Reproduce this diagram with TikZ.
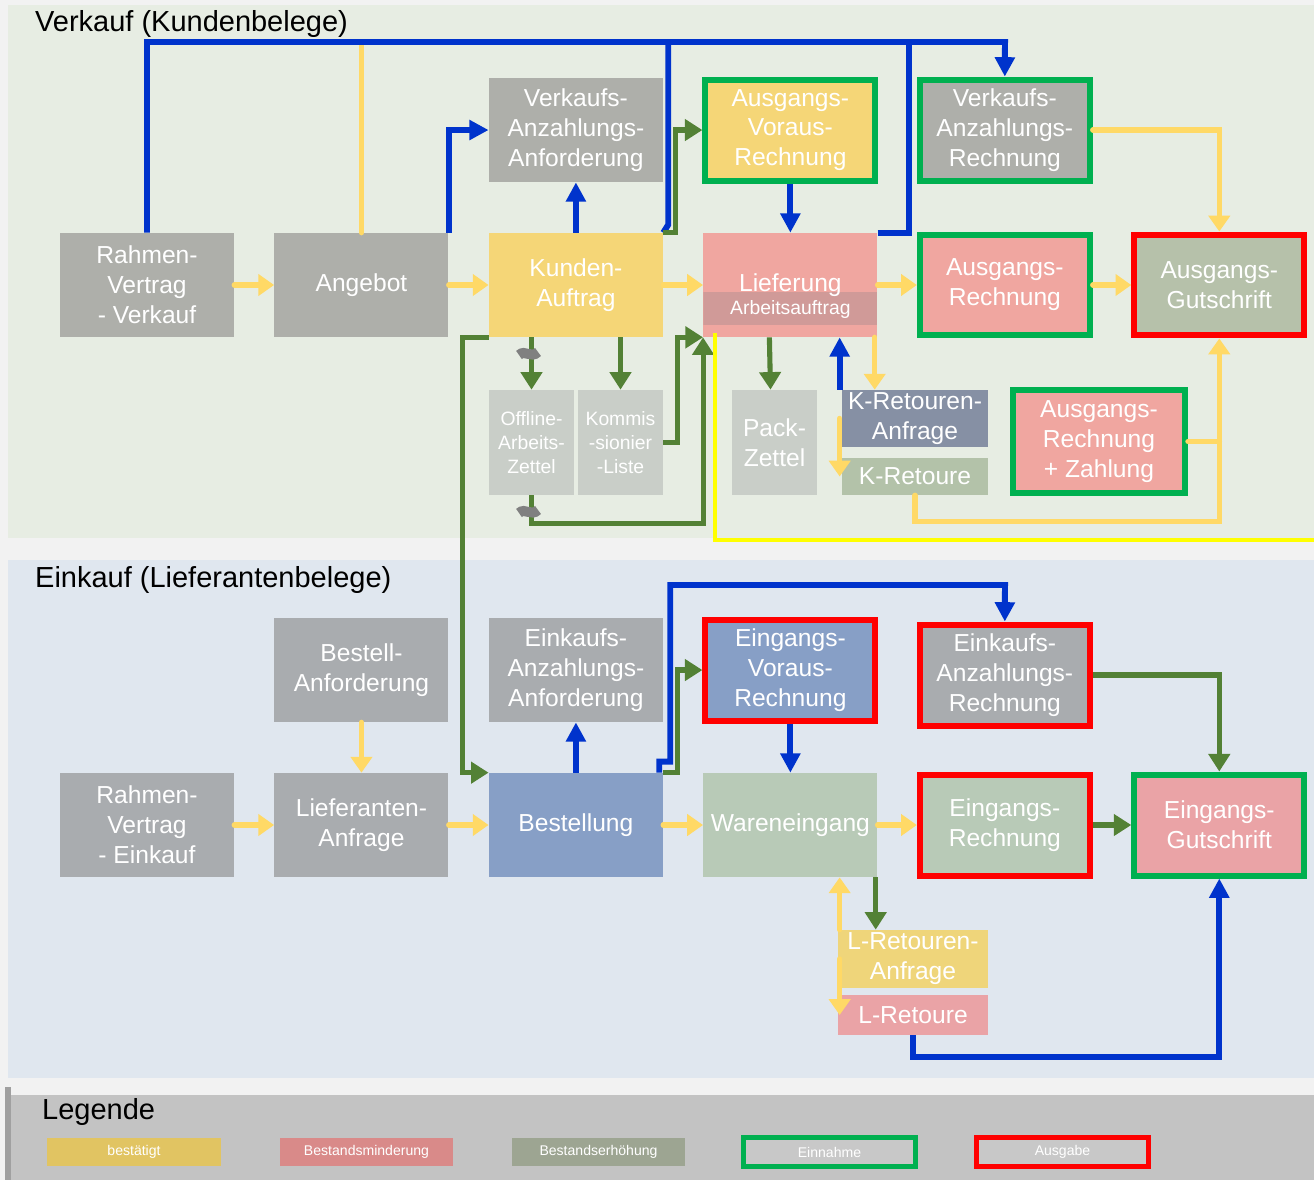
\documentclass[tikz,border=0pt]{standalone}
\usepackage{fontspec}
\setmainfont{Liberation Sans}
\usetikzlibrary{arrows.meta, calc, positioning}

\definecolor{seitengrau}{HTML}{F2F2F2}
\definecolor{verkaufbg}{HTML}{E7EDE3}
\definecolor{einkaufbg}{HTML}{E0E7EF}
\definecolor{legendbg}{HTML}{C3C3C3}
\definecolor{legendrand}{HTML}{A0A0A0}
\definecolor{vkgrau}{HTML}{AEAFAA}
\definecolor{ekgrau}{HTML}{A9ACAF}
\definecolor{hellgrau}{HTML}{C9CEC8}
\definecolor{gelbbox}{HTML}{F5D677}
\definecolor{rosabox}{HTML}{F0A6A0}
\definecolor{bandrosa}{HTML}{D09A98}
\definecolor{gutgruen}{HTML}{B6C1AA}
\definecolor{blaubox}{HTML}{879FC6}
\definecolor{wegruen}{HTML}{B8CAB7}
\definecolor{egrosa}{HTML}{EAA3A6}
\definecolor{kragrau}{HTML}{8690A4}
\definecolor{krgruen}{HTML}{B3C2A9}
\definecolor{lragelb}{HTML}{EFD57A}
\definecolor{rahmengruen}{HTML}{00B050}
\definecolor{rahmenrot}{HTML}{FF0000}
\definecolor{pfblau}{HTML}{0033CC}
\definecolor{pfgelb}{HTML}{FFD966}
\definecolor{pfgruen}{HTML}{538135}
\definecolor{hellgelb}{HTML}{FFFF00}
\definecolor{bruchgrau}{HTML}{808080}
\definecolor{leggelb}{HTML}{E1C462}
\definecolor{legrosa}{HTML}{D98A89}
\definecolor{leggruen}{HTML}{9DA592}
\definecolor{legfill}{HTML}{C8C8C8}

\newcommand{\boxfont}{\fontsize{14}{17}\selectfont}
\newcommand{\kleinfont}{\fontsize{11}{13.5}\selectfont}
\newcommand{\legfont}{\fontsize{8}{9.6}\selectfont}
\newcommand{\titelfont}{\fontsize{16.5}{19}\selectfont}

\tikzstyle{beleg} = [rectangle, minimum width=3.48cm, minimum height=2.08cm, inner sep=0pt, align=center, text=white, font=\boxfont]
\tikzstyle{klein} = [rectangle, minimum width=1.7cm, minimum height=2.1cm, inner sep=0pt, align=center, text=white, font=\kleinfont, fill=hellgrau]
\tikzstyle{retoure} = [rectangle, minimum width=2.92cm, inner sep=0pt, align=center, text=white, font=\boxfont]
\tikzstyle{einnahme} = [draw=rahmengruen, line width=0.12cm, minimum width=3.4cm, minimum height=2.02cm]
\tikzstyle{ausgabe} = [draw=rahmenrot, line width=0.12cm, minimum width=3.4cm, minimum height=2.02cm]
\tikzstyle{legbox} = [rectangle, minimum width=3.48cm, minimum height=0.56cm, inner sep=0pt, text=white, font=\legfont]
\tikzstyle{arbeitsband} = [path picture={\fill[bandrosa] ([yshift=0.24cm]path picture bounding box.south west) rectangle ([yshift=0.9cm]path picture bounding box.south east);}]
\tikzstyle{ylink} = [line width=3.1pt, draw=pfgelb, line cap=round]
\tikzstyle{yarrow} = [ylink, -{Triangle[width=12pt,length=9pt]}]
\tikzstyle{blink} = [line width=3.4pt, draw=pfblau]
\tikzstyle{barrow} = [blink, -{Triangle[width=11pt,length=11pt]}]
\tikzstyle{glink} = [line width=2.9pt, draw=pfgruen]
\tikzstyle{garrow} = [glink, -{Triangle[width=12pt,length=10pt]}]
\tikzstyle{bruch} = [line width=0.2cm, draw=bruchgrau]

\begin{document}
\begin{tikzpicture}[node distance=4.29cm, x=0.02cm, y=-0.02cm]
% Hintergrund
\useasboundingbox (0,0) rectangle (1314,1180);
\fill[seitengrau] (0,0) rectangle (1314,1180);
\fill[verkaufbg] (8,5) rectangle (1314,538);
\fill[einkaufbg] (8,560) rectangle (1314,1078);
\fill[legendbg] (5,1095) rectangle (1314,1180);
\fill[legendrand] (5,1087) rectangle (11,1180);

\node (vktitel) [anchor=west, font=\titelfont] at (29,24) {Verkauf (Kundenbelege)};
\node (ektitel) [anchor=west, font=\titelfont] at (29,580) {Einkauf (Lieferantenbelege)};
\node (legtitel) [anchor=west, font=\titelfont] at (36,1112) {Legende};

% Verkauf
\node (rvv) [beleg, fill=vkgrau] at (147,285) {Rahmen-\\Vertrag\\- Verkauf};
\node (angebot) [beleg, fill=vkgrau, right of=rvv] {Angebot};
\node (kauftrag) [beleg, fill=gelbbox, right of=angebot] {Kunden-\\Auftrag};
\node (lief) [beleg, fill=rosabox, arbeitsband, right of=kauftrag] {Lieferung};
\node (arbeit) [font=\kleinfont, text=white, inner sep=0pt] at ($(lief.center)+(0,24)$) {Arbeitsauftrag};
\node (arech) [beleg, einnahme, fill=rosabox, right of=lief] {Ausgangs-\\Rechnung};
\node (agut) [beleg, ausgabe, fill=gutgruen, right of=arech] {Ausgangs-\\Gutschrift};
\node (vaa) [beleg, fill=vkgrau, above of=kauftrag, node distance=3.1cm] {Verkaufs-\\Anzahlungs-\\Anforderung};
\node (avr) [beleg, einnahme, fill=gelbbox, above of=lief, node distance=3.1cm] {Ausgangs-\\Voraus-\\Rechnung};
\node (var) [beleg, einnahme, fill=vkgrau, above of=arech, node distance=3.1cm] {Verkaufs-\\Anzahlungs-\\Rechnung};
\node (oaz) [klein] at (531.5,442.5) {Offline-\\Arbeits-\\Zettel};
\node (kl) [klein] at (620.5,442.5) {Kommis\\-sionier\\-Liste};
\node (pz) [klein, font=\boxfont] at (774.5,442.5) {Pack-\\Zettel};
\node (kra) [retoure, fill=kragrau, minimum height=1.14cm] at (915,418.5) {K-Retouren-\\Anfrage};
\node (kr) [retoure, fill=krgruen, minimum height=0.74cm] at (915,476.5) {K-Retoure};
\node (arz) [beleg, einnahme, fill=rosabox, minimum width=3.44cm, minimum height=2.06cm] at (1099,441.5) {Ausgangs-\\Rechnung\\+ Zahlung};

% Einkauf
\node (rve) [beleg, fill=ekgrau] at (147,825) {Rahmen-\\Vertrag\\- Einkauf};
\node (la) [beleg, fill=ekgrau, right of=rve] {Lieferanten-\\Anfrage};
\node (bestellung) [beleg, fill=blaubox, right of=la] {Bestellung};
\node (we) [beleg, fill=wegruen, right of=bestellung] {Wareneingang};
\node (er) [beleg, ausgabe, fill=wegruen, right of=we] {Eingangs-\\Rechnung};
\node (egut) [beleg, einnahme, fill=egrosa, right of=er] {Eingangs-\\Gutschrift};
\node (ba) [beleg, fill=ekgrau, above of=la, node distance=3.1cm] {Bestell-\\Anforderung};
\node (eaa) [beleg, fill=ekgrau, above of=bestellung, node distance=3.1cm] {Einkaufs-\\Anzahlungs-\\Anforderung};
\node (evr) [beleg, ausgabe, fill=blaubox, above of=we, node distance=3.1cm] {Eingangs-\\Voraus-\\Rechnung};
\node (eiar) [beleg, ausgabe, fill=ekgrau, above of=er, node distance=3.0cm] {Einkaufs-\\Anzahlungs-\\Rechnung};
\node (lra) [retoure, fill=lragelb, minimum width=3.0cm, minimum height=1.16cm] at (913,959) {L-Retouren-\\Anfrage};
\node (lr) [retoure, fill=egrosa, minimum width=3.0cm, minimum height=0.8cm] at (913,1015) {L-Retoure};

% Legende
\node (lgbest) [legbox, fill=leggelb] at (134,1152) {bestätigt};
\node (lgmind) [legbox, fill=legrosa] at (366.5,1152) {Bestandsminderung};
\node (lgerh) [legbox, fill=leggruen] at (598.5,1152) {Bestandserhöhung};
\node (lgein) [legbox, draw=rahmengruen, line width=0.1cm, fill=legfill, minimum width=3.44cm, minimum height=0.58cm] at (829.5,1152) {Einnahme};
\node (lgaus) [legbox, draw=rahmenrot, line width=0.1cm, fill=legfill, minimum width=3.44cm, minimum height=0.58cm] at (1062.5,1152) {Ausgabe};

% Verbindungen Verkauf
\coordinate (vbus) at (1005,42);
\coordinate (yend) at (1314,540);
\draw[ylink] (angebot.north) -- (angebot.north |- vbus);
\draw[barrow] (rvv.north) |- (vbus) -- (var.north);
\draw[blink] (kauftrag.north east) -- ++(5,-8) |- (vbus);
\draw[blink] (lief.north east) -- ++(31,0) |- (vbus);
\draw[barrow] (angebot.north east) |- (vaa.west);
\draw[barrow] (kauftrag.north) -- (vaa.south);
\draw[garrow] (kauftrag.north east) -- ++(12,0) |- (avr.west);
\draw[barrow] (avr.south) -- (lief.north);
\draw[yarrow] (rvv) -- (angebot);
\draw[yarrow] (angebot) -- (kauftrag);
\draw[yarrow] (kauftrag) -- (lief);
\draw[yarrow] (lief) -- (arech);
\draw[yarrow] (arech) -- (agut);
\draw[yarrow] (var.east) -| (agut.north);
\draw[yarrow] (kr.south) -- ++(0,26) -| (agut.south);
\draw[ylink] (arz.east) -- (arz.east -| agut.south);
\draw[garrow] (kauftrag.south -| oaz.north) -- (oaz.north);
\draw[garrow] (kauftrag.south -| kl.north) -- (kl.north);
\draw[garrow] (oaz.south) -- ++(0,28) -| (lief.south west);
\draw[garrow] (kl.east) -- ++(14,0) |- (lief.south west);
\draw[garrow] (kauftrag.south west) -- ++(-26,0) |- (bestellung.north west);
\draw[line width=2.3pt, draw=hellgelb] ($(lief.south west)+(12,-4)$) |- (yend);
\draw[garrow] ($(lief.south)+(-21,0)$) -- ($(pz.north)+(-4,0)$);
\draw[barrow] ($(kra.north west)+(-2,0)$) -- ($(kra.north west |- lief.south)+(-2,0)$);
\draw[yarrow] ($(lief.south east)+(-3,0)$) -- ($(lief.south east |- kra.north)+(-3,0)$);
\draw[yarrow] ($(kra.west)+(-2,0)$) -- ($(kr.west)+(-2,0)$);
\draw[bruch] (519,355) .. controls (525,349) and (531,359) .. (538,352);
\draw[bruch] (519,513) .. controls (525,507) and (531,517) .. (538,510);

% Verbindungen Einkauf
\coordinate (ebus) at (1005,585);
\draw[yarrow] (ba) -- (la);
\draw[yarrow] (rve) -- (la);
\draw[yarrow] (la) -- (bestellung);
\draw[yarrow] (bestellung) -- (we);
\draw[yarrow] (we) -- (er);
\draw[barrow] (bestellung) -- (eaa);
\draw[garrow] (bestellung.north east) -- ++(14,0) |- (evr.west);
\draw[barrow] ($(bestellung.north east)+(-4,0)$) -- ++(0,-11) -- ++(11,0) |- (ebus) -- (eiar.north);
\draw[barrow] (evr.south) -- (evr.south |- we.north);
\draw[garrow] (eiar.east) -| (egut.north);
\draw[garrow] (er) -- (egut);
\draw[garrow] ($(we.south east)+(-2,0)$) -- ($(we.south east |- lra.north)+(-2,0)$);
\draw[yarrow] ($(lra.north west)+(2,0)$) -- ($(lra.north west |- we.south)+(2,0)$);
\draw[yarrow] ($(lra.west)+(2,0)$) -- ($(lr.west)+(2,0)$);
\draw[barrow] (lr.south) -- ++(0,22) -| (egut.south);
\end{tikzpicture}
\end{document}
